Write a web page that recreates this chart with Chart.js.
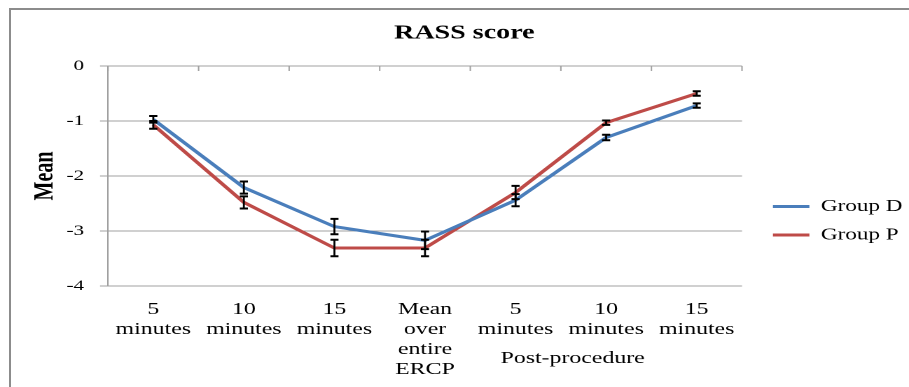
<!DOCTYPE html>
<html><head><meta charset="utf-8">
<script src="https://cdn.jsdelivr.net/npm/chart.js@4.4.0/dist/chart.umd.min.js"></script>
<style>
html,body{margin:0;padding:0;background:#fff;overflow:hidden;width:909px;height:387px;}
#frame{position:absolute;left:9px;top:8px;width:1000px;height:500px;border-left:2px solid #8c8c8c;border-top:2px solid #8c8c8c;}
#wrap{position:absolute;left:0;top:0;width:649px;height:387px;transform:scaleX(1.40062);transform-origin:0 0;}
</style></head><body>
<div id="frame"></div>
<div id="wrap"><canvas id="c"></canvas></div>
<script>
const categories = [["5","minutes"],["10","minutes"],["15","minutes"],["Mean","over","entire","ERCP"],["5","minutes"],["10","minutes"],["15","minutes"]];
const groupD = [-0.97,-2.21,-2.92,-3.17,-2.44,-1.30,-0.72];
const groupDErr = [0.06,0.11,0.14,0.16,0.11,0.05,0.04];
const groupP = [-1.07,-2.48,-3.31,-3.31,-2.30,-1.03,-0.50];
const groupPErr = [0.07,0.11,0.15,0.15,0.12,0.04,0.04];
const yTicks = [0,-1,-2,-3,-4];
const yTickLabels = ["0","-1","-2","-3","-4"];
const groupLabel = "Post-procedure";
const groupLabelPos = 4.63;

const SERIF = "'Liberation Serif','Times New Roman',serif";
Chart.defaults.font.family = SERIF;
Chart.defaults.color = '#000';
const GRID = '#a0a0a0';
const errSets = [groupDErr, groupPErr];

const errorBars = {
  id: 'errorBars',
  afterDatasetsDraw(chart) {
    const ctx = chart.ctx, y = chart.scales.y;
    ctx.save();
    ctx.strokeStyle = '#000';
    chart.data.datasets.forEach((ds, i) => {
      const meta = chart.getDatasetMeta(i);
      ds.data.forEach((v, j) => {
        const e = errSets[i][j];
        const px = meta.data[j].x;
        const t = y.getPixelForValue(v + e), b = y.getPixelForValue(v - e);
        ctx.lineWidth = 1.4;
        ctx.beginPath(); ctx.moveTo(px, t); ctx.lineTo(px, b); ctx.stroke();
        ctx.lineWidth = 2;
        ctx.beginPath();
        ctx.moveTo(px - 2.9, t); ctx.lineTo(px + 2.9, t);
        ctx.moveTo(px - 2.9, b); ctx.lineTo(px + 2.9, b);
        ctx.stroke();
      });
    });
    ctx.restore();
  }
};

const topTicks = {
  id: 'topTicks',
  beforeDatasetsDraw(chart) {
    const ctx = chart.ctx, x = chart.scales.x, top = chart.chartArea.top;
    ctx.save();
    ctx.strokeStyle = GRID; ctx.lineWidth = 1;
    for (let i = 0; i <= categories.length; i++) {
      const px = x.getPixelForValue(i - 0.5);
      ctx.beginPath(); ctx.moveTo(px, top); ctx.lineTo(px, top + 5); ctx.stroke();
    }
    ctx.restore();
  }
};

const groupText = {
  id: 'groupText',
  afterDraw(chart) {
    const ctx = chart.ctx, x = chart.scales.x;
    ctx.save();
    ctx.font = "17px " + SERIF;
    ctx.fillStyle = '#000';
    ctx.textAlign = 'center';
    ctx.textBaseline = 'middle';
    ctx.fillText(groupLabel, x.getPixelForValue(groupLabelPos), x.top + 72.5);
    ctx.restore();
  }
};

const legendFit = {
  id: 'legendFit',
  beforeInit(chart) {
    const lg = chart.legend;
    if (!lg) return;
    const orig = lg.fit;
    lg.fit = function() { orig.call(this); this.width = 119.24; };
  },
  afterLayout(chart) {
    const lg = chart.legend;
    if (lg) { lg.left += 10.1; lg.right += 10.1; }
  }
};

new Chart(document.getElementById('c'), {
  type: 'line',
  data: {
    labels: categories,
    datasets: [
      { label: 'Group D', data: groupD, borderColor: '#4A7EBB', backgroundColor: '#4A7EBB', borderWidth: 3, pointRadius: 0, tension: 0, fill: false },
      { label: 'Group P', data: groupP, borderColor: '#BE4B48', backgroundColor: '#BE4B48', borderWidth: 3, pointRadius: 0, tension: 0, fill: false }
    ]
  },
  options: {
    responsive: true,
    maintainAspectRatio: false,
    devicePixelRatio: 2,
    animation: false,
    layout: { padding: { left: 14, right: 0, top: 0, bottom: 0 } },
    plugins: {
      title: {
        display: true, text: 'RASS score', color: '#000',
        font: { size: 20, weight: 'bold', family: SERIF },
        padding: { top: 21.5, bottom: 20.5 }
      },
      legend: {
        position: 'right',
        title: { display: true, text: ' ', font: { size: 10 }, padding: { top: 42.5, bottom: 0 } },
        labels: {
          usePointStyle: true, pointStyle: 'line', pointStyleWidth: 26,
          font: { size: 16.5, family: SERIF }, color: '#000', padding: 12
        }
      },
      tooltip: { enabled: false }
    },
    scales: {
      x: {
        type: 'category',
        offset: true,
        grid: { display: false, drawTicks: false },
        border: { display: false },
        ticks: { font: { size: 17, family: SERIF, lineHeight: 20/17 }, padding: 13.5, maxRotation: 0, autoSkip: false, color: '#000' },
        afterFit(s) { s.height = 101; }
      },
      y: {
        min: -4, max: 0,
        afterBuildTicks(s) { s.ticks = yTicks.map(v => ({ value: v })); },
        grid: { color: GRID, lineWidth: 1, tickLength: 5.7, drawTicks: true },
        border: { display: true, color: GRID, width: 1 },
        ticks: {
          font: { size: 15, family: SERIF }, padding: 11.4, color: '#000',
          callback(v) { const k = yTicks.indexOf(v); return k >= 0 ? yTickLabels[k] : String(v); }
        },
        title: { display: true, text: 'Mean', color: '#000', font: { size: 20, weight: 'bold', family: SERIF }, padding: { top: 6.5, bottom: 0 } },
        afterFit(s) { s.width = 63.11; }
      }
    }
  },
  plugins: [errorBars, topTicks, groupText, legendFit]
});
</script>
</body></html>
